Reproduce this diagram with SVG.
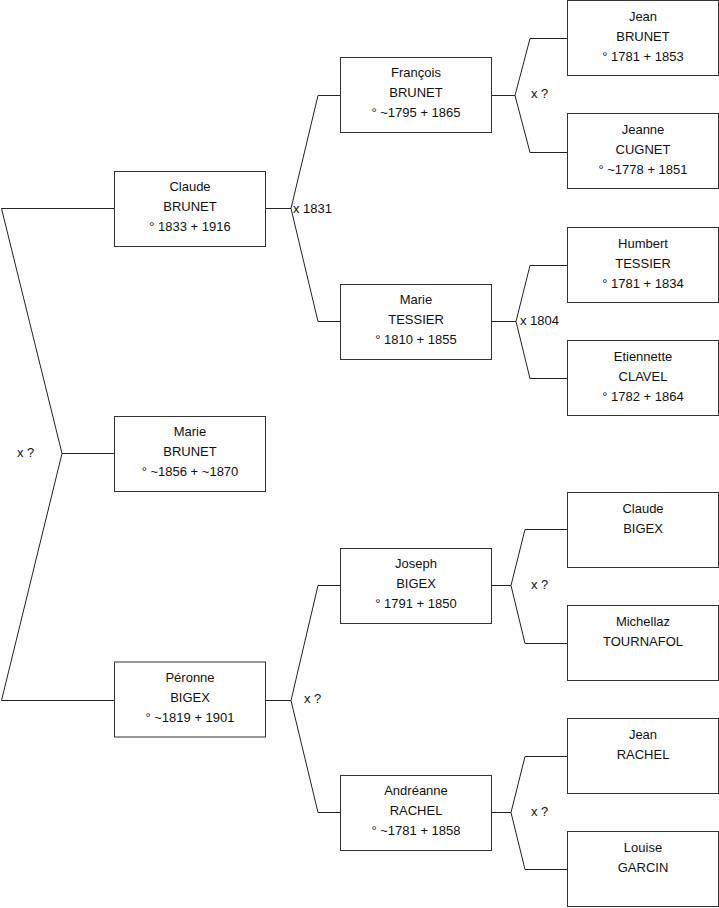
<svg xmlns="http://www.w3.org/2000/svg" width="719" height="908" viewBox="0 0 719 908">
<style>
.b{fill:#fff;stroke:#333;stroke-width:1}
.t{font-family:"Liberation Sans",Arial,sans-serif;font-size:13px;fill:#111;text-anchor:middle}
.l{font-family:"Liberation Sans",Arial,sans-serif;font-size:13px;fill:#111}
.c{fill:none;stroke:#222;stroke-width:1}
</style>
<rect width="719" height="908" fill="#fff"/>
<g id="connectors">
<path class="c" d="M114,208.5 H1.5 L62,453.5 L1.5,700.5 H114 M62,453.5 H114"/>
<path class="c" d="M265,208.5 H291 M341,95.5 H318 L291,208.5 L318,321.5 H341"/>
<path class="c" d="M492,95.5 H515 M567,38.5 H530 L515,95.5 L530,152.5 H567"/>
<path class="c" d="M492,321.5 H516 M567,265.5 H530 L516,321.5 L530,378.5 H567"/>
<path class="c" d="M265,700.5 H291 M341,585.5 H318 L291,700.5 L318,812.5 H341"/>
<path class="c" d="M492,585.5 H511 M567,529.5 H525 L511,585.5 L525,643.5 H567"/>
<path class="c" d="M492,812.5 H511 M567,756.5 H525 L511,812.5 L525,869.5 H567"/>
<text class="l" x="17" y="457">x ?</text>
<text class="l" x="293" y="212.5">x 1831</text>
<text class="l" x="531" y="97.5">x ?</text>
<text class="l" x="520" y="325">x 1804</text>
<text class="l" x="304" y="702.5">x ?</text>
<text class="l" x="531" y="588.5">x ?</text>
<text class="l" x="531" y="815.5">x ?</text>
</g>
<g id="claude-brunet"><rect class="b" x="114.5" y="171.5" width="151" height="75"/><text class="t" x="190" y="191">Claude</text><text class="t" x="190" y="211">BRUNET</text><text class="t" x="190" y="231">° 1833 + 1916</text></g>
<g id="marie-brunet"><rect class="b" x="114.5" y="416.5" width="151" height="75"/><text class="t" x="190" y="436">Marie</text><text class="t" x="190" y="456">BRUNET</text><text class="t" x="190" y="476">° ~1856 + ~1870</text></g>
<g id="peronne-bigex"><rect class="b" x="114.5" y="662" width="151" height="75"/><text class="t" x="190" y="682">Péronne</text><text class="t" x="190" y="702">BIGEX</text><text class="t" x="190" y="722">° ~1819 + 1901</text></g>
<g id="francois-brunet"><rect class="b" x="340.5" y="57.5" width="151" height="75"/><text class="t" x="416" y="77">François</text><text class="t" x="416" y="97">BRUNET</text><text class="t" x="416" y="117">° ~1795 + 1865</text></g>
<g id="marie-tessier"><rect class="b" x="340.5" y="284.5" width="151" height="75"/><text class="t" x="416" y="304">Marie</text><text class="t" x="416" y="324">TESSIER</text><text class="t" x="416" y="344">° 1810 + 1855</text></g>
<g id="joseph-bigex"><rect class="b" x="340.5" y="548.5" width="151" height="75"/><text class="t" x="416" y="568">Joseph</text><text class="t" x="416" y="588">BIGEX</text><text class="t" x="416" y="608">° 1791 + 1850</text></g>
<g id="andreanne-rachel"><rect class="b" x="340.5" y="775.5" width="151" height="75"/><text class="t" x="416" y="795">Andréanne</text><text class="t" x="416" y="815">RACHEL</text><text class="t" x="416" y="835">° ~1781 + 1858</text></g>
<g id="jean-brunet"><rect class="b" x="567.5" y="0.5" width="151" height="75"/><text class="t" x="643" y="20.5">Jean</text><text class="t" x="643" y="40.5">BRUNET</text><text class="t" x="643" y="60.5">° 1781 + 1853</text></g>
<g id="jeanne-cugnet"><rect class="b" x="567.5" y="113.5" width="151" height="75"/><text class="t" x="643" y="133.5">Jeanne</text><text class="t" x="643" y="153.5">CUGNET</text><text class="t" x="643" y="173.5">° ~1778 + 1851</text></g>
<g id="humbert-tessier"><rect class="b" x="567.5" y="227.5" width="151" height="75"/><text class="t" x="643" y="247.5">Humbert</text><text class="t" x="643" y="267.5">TESSIER</text><text class="t" x="643" y="287.5">° 1781 + 1834</text></g>
<g id="etiennette-clavel"><rect class="b" x="567.5" y="340.5" width="151" height="75"/><text class="t" x="643" y="360.5">Etiennette</text><text class="t" x="643" y="380.5">CLAVEL</text><text class="t" x="643" y="400.5">° 1782 + 1864</text></g>
<g id="claude-bigex"><rect class="b" x="567.5" y="492.5" width="151" height="75"/><text class="t" x="643" y="512.5">Claude</text><text class="t" x="643" y="532.5">BIGEX</text></g>
<g id="michellaz-tournafol"><rect class="b" x="567.5" y="605.5" width="151" height="75"/><text class="t" x="643" y="625.5">Michellaz</text><text class="t" x="643" y="645.5">TOURNAFOL</text></g>
<g id="jean-rachel"><rect class="b" x="567.5" y="718.5" width="151" height="75"/><text class="t" x="643" y="738.5">Jean</text><text class="t" x="643" y="758.5">RACHEL</text></g>
<g id="louise-garcin"><rect class="b" x="567.5" y="831.5" width="151" height="75"/><text class="t" x="643" y="851.5">Louise</text><text class="t" x="643" y="871.5">GARCIN</text></g>
</svg>
